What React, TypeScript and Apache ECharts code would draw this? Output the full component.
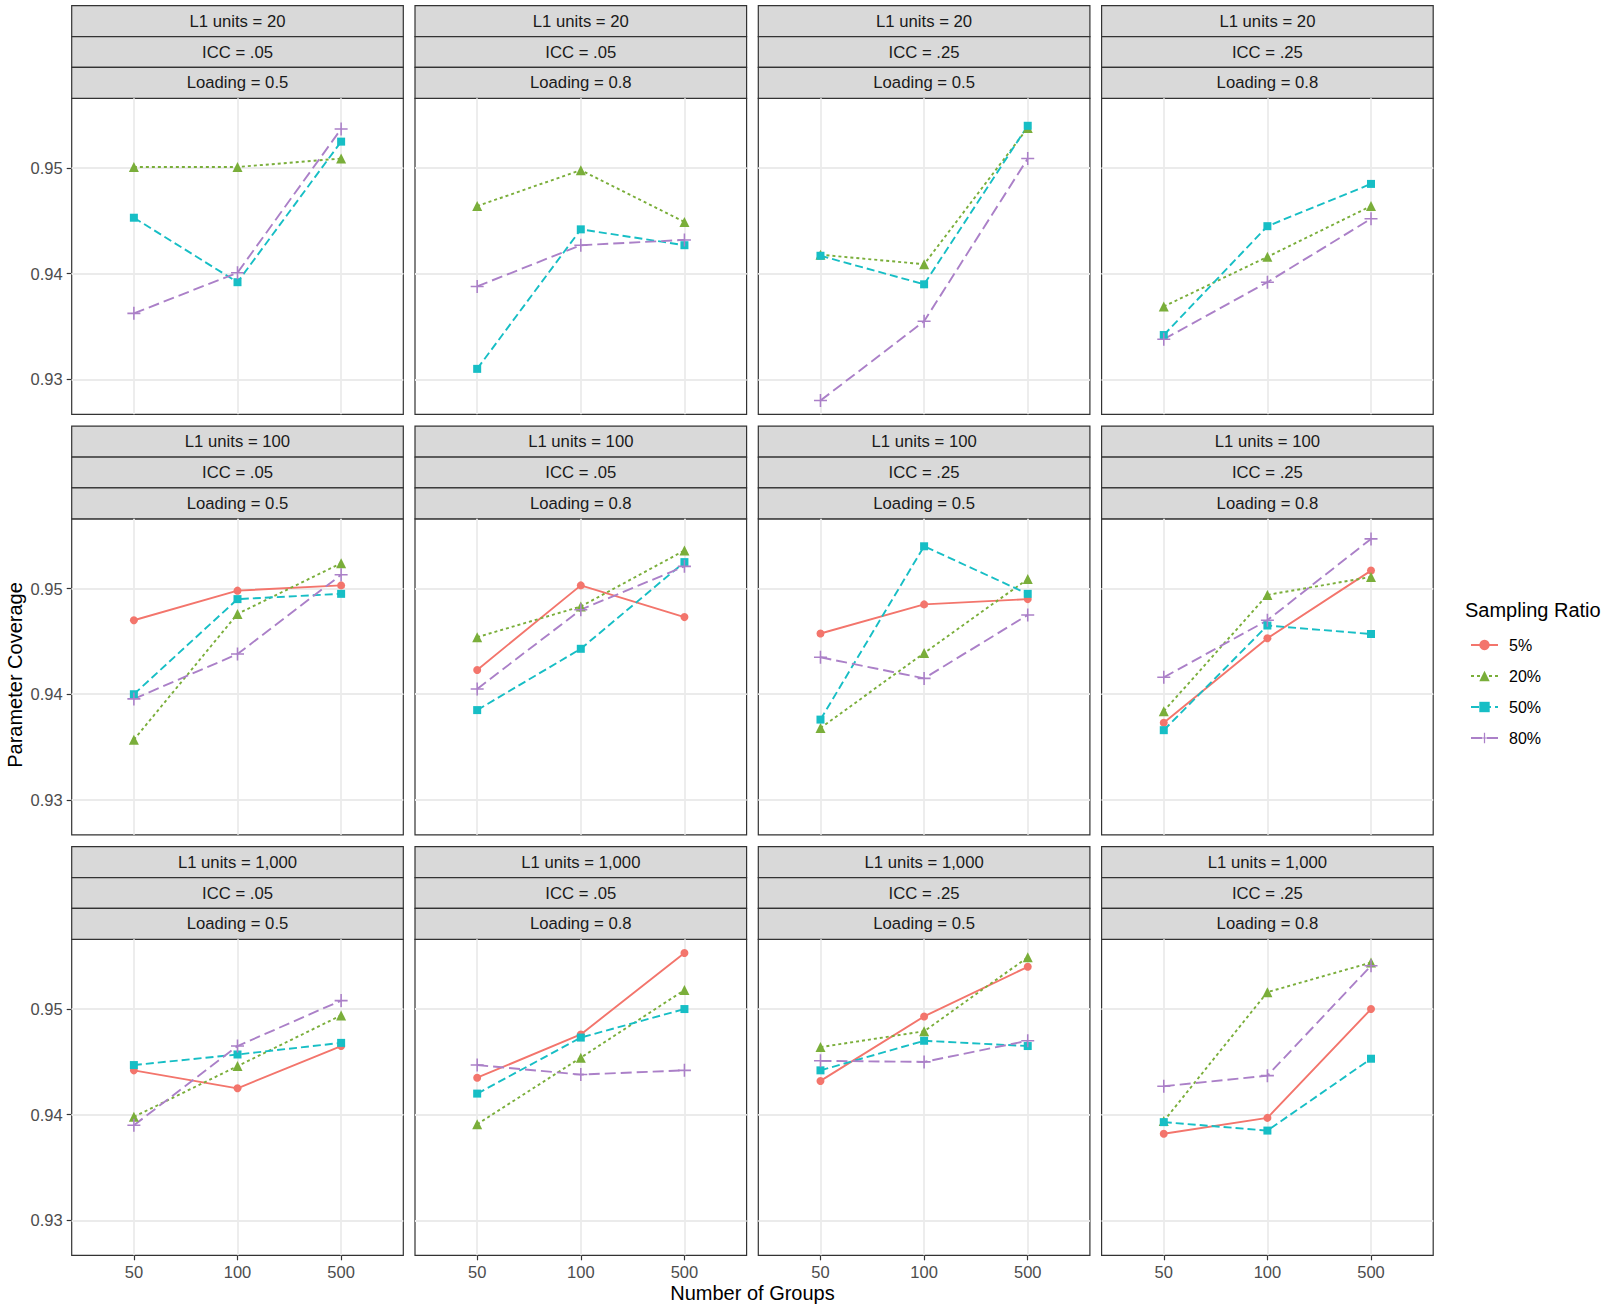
import React, { useEffect, useRef } from "react";
import * as echarts from "echarts";

// ---------- categories / labels ----------
const groups = ["50", "100", "500"];
const ratios = ["5%", "20%", "50%", "80%"];
const l1Units = ["20", "100", "1,000"];
const iccLevels = [".05", ".05", ".25", ".25"];
const loadings = ["0.5", "0.8", "0.5", "0.8"];
const yMajor = [0.93, 0.94, 0.95];
const yMinor = [0.935, 0.945, 0.955];

// ---------- coverage values: each array = 4 panels (ICC.05/L.5, ICC.05/L.8, ICC.25/L.5, ICC.25/L.8) x groups ----------
// L1 units = 20 (no 5% condition)
const cov20_r20 = [[0.9501, 0.9501, 0.9509], [0.9464, 0.9498, 0.9449], [0.9418, 0.9409, 0.9538], [0.9369, 0.9416, 0.9464]];
const cov20_r50 = [[0.9453, 0.9392, 0.9525], [0.931, 0.9442, 0.9427], [0.9417, 0.939, 0.954], [0.9342, 0.9445, 0.9485]];
const cov20_r80 = [[0.93625, 0.9401, 0.9537], [0.9388, 0.9427, 0.9432], [0.928, 0.9355, 0.9509], [0.9338, 0.9392, 0.9452]];
// L1 units = 100
const cov100_r5 = [[0.947, 0.9498, 0.9503], [0.9423, 0.9503, 0.9473], [0.94575, 0.9485, 0.949], [0.9373, 0.9453, 0.9517]];
const cov100_r20 = [[0.9357, 0.9476, 0.9524], [0.9454, 0.9483, 0.9536], [0.9368, 0.9439, 0.9509], [0.9384, 0.9494, 0.9511]];
const cov100_r50 = [[0.94, 0.949, 0.9495], [0.9385, 0.9443, 0.9525], [0.9376, 0.954, 0.9495], [0.9366, 0.9465, 0.9457]];
const cov100_r80 = [[0.93956, 0.9438, 0.9513], [0.9405, 0.948, 0.9521], [0.9435, 0.9415, 0.9475], [0.9416, 0.947, 0.9547]];
// L1 units = 1,000
const cov1000_r5 = [[0.9442, 0.9425, 0.9465], [0.9435, 0.9476, 0.9553], [0.9432, 0.9493, 0.954], [0.9382, 0.9397, 0.95]];
const cov1000_r20 = [[0.9398, 0.9446, 0.9494], [0.9391, 0.9454, 0.9518], [0.9464, 0.9479, 0.9549], [0.9394, 0.9516, 0.9544]];
const cov1000_r50 = [[0.9447, 0.9457, 0.9468], [0.942, 0.9473, 0.95], [0.9442, 0.947, 0.9465], [0.9393, 0.9385, 0.9453]];
const cov1000_r80 = [[0.939, 0.9465, 0.9508], [0.9447, 0.9438, 0.9442], [0.9451, 0.945, 0.947], [0.9427, 0.9437, 0.9541]];

const coverage = [
  [null, cov20_r20, cov20_r50, cov20_r80],
  [cov100_r5, cov100_r20, cov100_r50, cov100_r80],
  [cov1000_r5, cov1000_r20, cov1000_r50, cov1000_r80],
];

// ---------- styles ----------
const FONT = "'Liberation Sans', Arial, Helvetica, sans-serif";
const colors = ["#F3756C", "#7AAE3A", "#17BEC5", "#AB80C8"];
const dashes: any[] = ["solid", [3, 3], [8, 4], [11, 5]];
const PLUS = "path://M4.4,0 L5.6,0 L5.6,4.4 L10,4.4 L10,5.6 L5.6,5.6 L5.6,10 L4.4,10 L4.4,5.6 L0,5.6 L0,4.4 L4.4,4.4 Z";
const symbols = ["circle", "triangle", "rect", PLUS];
const symbolSizes = [8, 10, 8, 13];

const PL = 71.7;
const PW = 331.6;
const PGAP = 11.7;
const PT = 98.3;
const PH = 316;
const ROWSTEP = 420.5;
const STRIP_TOP = 5.7;
const STRIP_H = 30.87;
const Y_MIN = 0.9267;
const Y_MAX = 0.9566;

function buildOption() {
  const grids: any[] = [];
  const xAxes: any[] = [];
  const yAxes: any[] = [];
  const series: any[] = [];
  const graphics: any[] = [];

  for (let r = 0; r < 3; r++) {
    for (let c = 0; c < 4; c++) {
      const idx = r * 4 + c;
      const left = PL + c * (PW + PGAP);
      const top = PT + r * ROWSTEP;
      grids.push({
        left,
        top,
        width: PW,
        height: PH,
        show: true,
        backgroundColor: "#FFFFFF",
        borderColor: "#333333",
        borderWidth: 1.2,
      });
      xAxes.push({
        type: "value",
        gridIndex: idx,
        min: 0.4,
        max: 3.6,
        axisLine: { show: false },
        splitLine: { show: false },
        axisTick: {
          show: r === 2,
          customValues: [1, 2, 3],
          length: 5,
          lineStyle: { color: "#333333", width: 1.2 },
        },
        axisLabel: {
          show: r === 2,
          customValues: [1, 2, 3],
          formatter: (v: number) => groups[Math.round(v) - 1],
          color: "#4D4D4D",
          fontSize: 16.5,
          fontFamily: FONT,
          margin: 8,
        },
      });
      yAxes.push({
        type: "value",
        gridIndex: idx,
        min: Y_MIN,
        max: Y_MAX,
        axisLine: { show: false },
        splitLine: { show: false },
        axisTick: {
          show: c === 0,
          customValues: yMajor,
          length: 5,
          lineStyle: { color: "#333333", width: 1.2 },
        },
        axisLabel: {
          show: c === 0,
          customValues: yMajor,
          formatter: (v: number) => v.toFixed(2),
          color: "#4D4D4D",
          fontSize: 16.5,
          fontFamily: FONT,
          margin: 9,
        },
      });

      // grid lines (panel background)
      const gridLines: any[] = [];
      yMinor.forEach((v) => gridLines.push({ yAxis: v, lineStyle: { width: 0.9 } }));
      yMajor.forEach((v) => gridLines.push({ yAxis: v, lineStyle: { width: 1.8 } }));
      groups.forEach((_, j) => gridLines.push({ xAxis: j + 1, lineStyle: { width: 1.8 } }));
      series.push({
        type: "line",
        name: "grid-" + idx,
        xAxisIndex: idx,
        yAxisIndex: idx,
        data: [],
        z: 1,
        silent: true,
        markLine: {
          silent: true,
          z: 1,
          symbol: ["none", "none"],
          label: { show: false },
          emphasis: { disabled: true },
          lineStyle: { color: "#EBEBEB", type: "solid", width: 1.8 },
          data: gridLines,
        },
      });

      for (let i = 0; i < 4; i++) {
        const arr = coverage[r][i];
        if (!arr) continue;
        series.push({
          type: "line",
          name: ratios[i],
          xAxisIndex: idx,
          yAxisIndex: idx,
          data: arr[c].map((v: number, j: number) => [j + 1, v]),
          symbol: symbols[i],
          symbolSize: symbolSizes[i],
          showSymbol: true,
          z: 2,
          lineStyle: { color: colors[i], width: 1.9, type: dashes[i] },
          itemStyle: { color: colors[i], borderWidth: 0 },
          emphasis: { disabled: true },
        });
      }

      // strips
      const stripTexts = ["L1 units = " + l1Units[r], "ICC = " + iccLevels[c], "Loading = " + loadings[c]];
      stripTexts.forEach((t, k) => {
        const sy = STRIP_TOP + r * ROWSTEP + k * STRIP_H;
        graphics.push({
          type: "rect",
          shape: { x: left, y: sy, width: PW, height: STRIP_H },
          style: { fill: "#D9D9D9", stroke: "#333333", lineWidth: 1.2 },
          silent: true,
        });
        graphics.push({
          type: "text",
          x: left + PW / 2,
          y: sy + STRIP_H / 2,
          style: {
            text: t,
            fill: "#1A1A1A",
            fontSize: 16.7,
            fontFamily: FONT,
            align: "center",
            verticalAlign: "middle",
          },
          silent: true,
        });
      });
    }
  }

  // axis titles
  graphics.push({
    type: "text",
    x: PL + (4 * PW + 3 * PGAP) / 2,
    y: 1293,
    style: { text: "Number of Groups", fill: "#000000", fontSize: 20, fontFamily: FONT, align: "center", verticalAlign: "middle" },
    silent: true,
  });
  graphics.push({
    type: "text",
    x: 15,
    y: 675,
    rotation: Math.PI / 2,
    style: { text: "Parameter Coverage", fill: "#000000", fontSize: 20, fontFamily: FONT, align: "center", verticalAlign: "middle" },
    silent: true,
  });
  // legend title
  graphics.push({
    type: "text",
    x: 1465,
    y: 610,
    style: { text: "Sampling Ratio", fill: "#000000", fontSize: 20, fontFamily: FONT, align: "left", verticalAlign: "middle" },
    silent: true,
  });

  return {
    animation: false,
    backgroundColor: "#FFFFFF",
    textStyle: { fontFamily: FONT },
    grid: grids,
    xAxis: xAxes,
    yAxis: yAxes,
    legend: {
      data: ratios,
      orient: "vertical",
      left: 1465,
      top: 632,
      itemWidth: 27,
      itemHeight: 13,
      itemGap: 15,
      selectedMode: false,
      textStyle: { fontSize: 16, color: "#000000", fontFamily: FONT, lineHeight: 16, padding: [0, 0, 0, 6] },
    },
    series,
    graphic: graphics,
  };
}

export default function App() {
  const ref = useRef<HTMLDivElement>(null);
  useEffect(() => {
    if (!ref.current) return;
    const chart = echarts.init(ref.current, undefined, { renderer: "svg" });
    chart.setOption(buildOption() as any);
    return () => chart.dispose();
  }, []);
  return (
    <div
      ref={ref}
      style={{ position: "absolute", left: 0, top: 0, width: 1609, height: 1309, background: "#FFFFFF" }}
    />
  );
}
